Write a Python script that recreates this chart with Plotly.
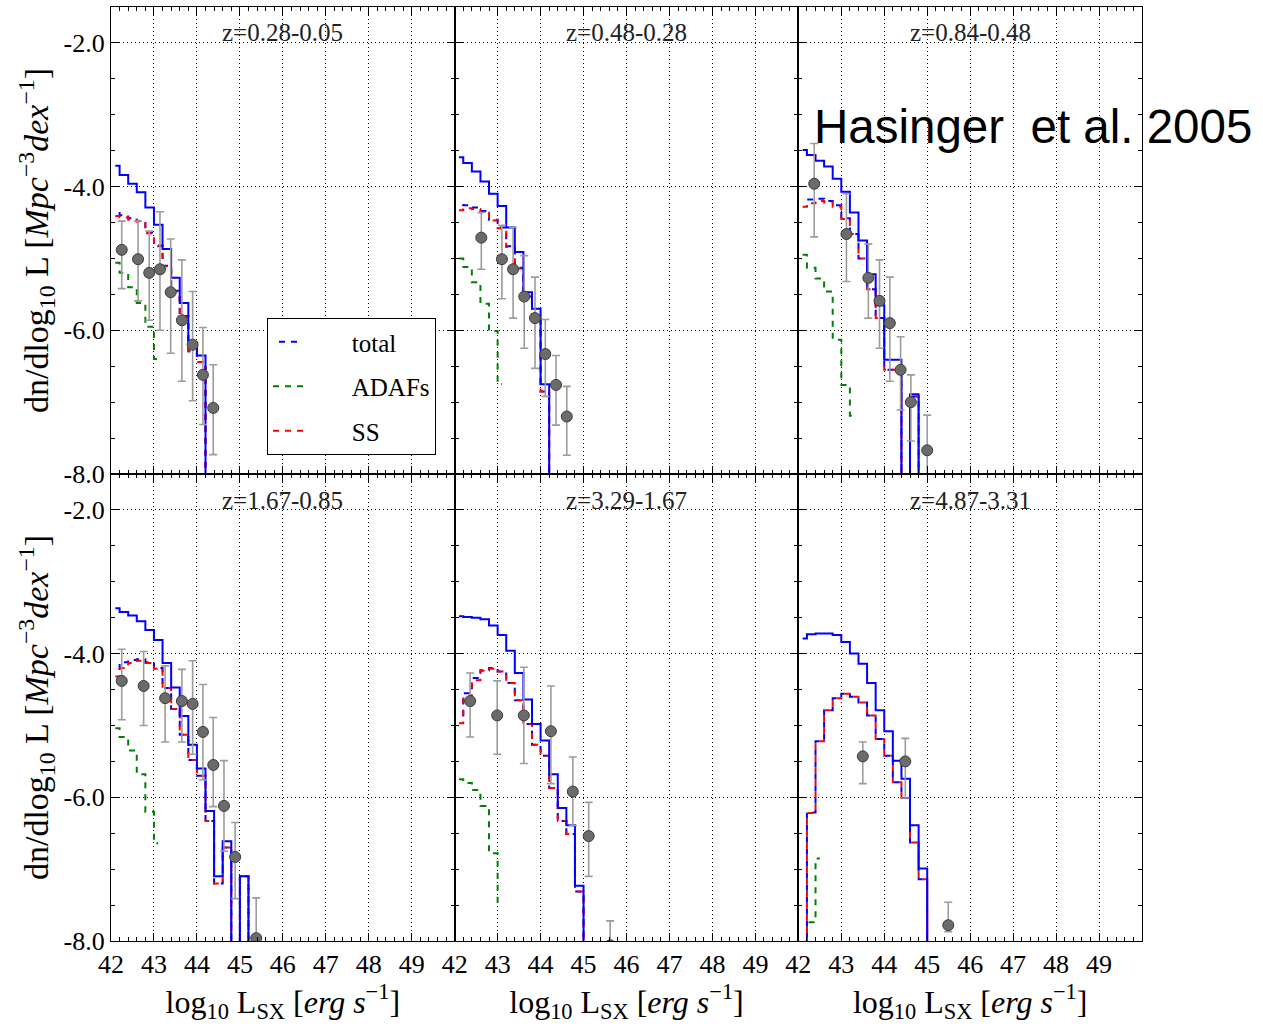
import plotly.graph_objects as go
from plotly.subplots import make_subplots

NEG = float("-inf")      # empty bin (log10 of zero)
FLOOR = -12.0            # where empty bins are drawn (below the visible range)

# ---------------- data ----------------
L_BINS = [42.1, 42.3, 42.5, 42.7, 42.9, 43.1, 43.3, 43.5, 43.7, 43.9,
          44.1, 44.3, 44.5, 44.7, 44.9, 45.1, 45.3]

Z_LABELS = ["z=0.28-0.05", "z=0.48-0.28", "z=0.84-0.48",
            "z=1.67-0.85", "z=3.29-1.67", "z=4.87-3.31"]

# solid blue (model, not in legend)
SOLID_1 = [-3.71, -3.84, -3.96, -4.08, -4.29, -4.53, -4.87, -5.27, -5.62, -6.17, -6.35, NEG]
SOLID_2 = [-3.59, -3.67, -3.79, -3.93, -4.10, -4.27, -4.57, -4.91, -5.47, -5.70, -6.75, NEG]
SOLID_3 = [-3.49, -3.56, -3.64, -3.72, -3.89, -4.07, -4.36, -4.75, -5.22, -5.65, -6.41, -6.41, NEG, -6.89, NEG]
SOLID_4 = [-3.37, -3.42, -3.47, -3.55, -3.67, -3.81, -4.13, -4.47, -4.87, -5.27, -5.60, -6.19, -7.10, -6.61, NEG, -7.10, NEG]
SOLID_5 = [-3.48, -3.49, -3.50, -3.52, -3.61, -3.74, -3.96, -4.27, -4.64, -4.98, -5.21, -5.68, -6.15, -6.39, -7.23, NEG]
SOLID_6 = [-3.79, -3.73, -3.72, -3.72, -3.74, -3.84, -4.00, -4.14, -4.41, -4.79, -5.08, -5.49, -5.74, -6.39, -6.99, NEG]

# total (blue dashed)
TOTAL_1 = [-4.33, -4.40, -4.44, -4.48, -4.64, -4.82, -5.10, -5.45, -5.80, -6.29, -6.44, NEG]
TOTAL_2 = [-4.22, -4.26, -4.29, -4.34, -4.46, -4.57, -4.83, -5.13, -5.53, -5.85, -6.85, NEG]
TOTAL_3 = [-4.20, -4.18, -4.17, -4.20, -4.26, -4.44, -4.66, -5.00, -5.43, -5.83, -6.55, -6.55, NEG, -6.92, NEG]
TOTAL_4 = [-4.25, -4.12, -4.09, -4.08, -4.12, -4.20, -4.48, -4.77, -5.13, -5.48, -5.70, -6.33, -7.20, -6.70, NEG, -7.10, NEG]
TOTAL_5 = [-4.90, -4.55, -4.34, -4.23, -4.20, -4.25, -4.41, -4.65, -4.98, -5.27, -5.42, -5.87, -6.33, -6.51, -7.31, NEG]
TOTAL_6 = [NEG, -6.21, -5.22, -4.79, -4.62, -4.56, -4.60, -4.68, -4.86, -5.19, -5.42, -5.79, -6.01, -6.63, -7.14, NEG]

# SS discs (red dashed)
SS_1 = [-4.41, -4.43, -4.46, -4.49, -4.65, -4.83, -5.11, -5.46, -5.81, -6.29, -6.44, NEG]
SS_2 = [-4.33, -4.30, -4.31, -4.36, -4.47, -4.58, -4.84, -5.14, -5.53, -5.85, -6.85, NEG]
SS_3 = [-4.28, -4.23, -4.20, -4.22, -4.28, -4.45, -4.66, -5.00, -5.43, -5.83, -6.55, -6.55, NEG, -6.92, NEG]
SS_4 = [-4.32, -4.20, -4.13, -4.10, -4.13, -4.21, -4.48, -4.77, -5.13, -5.48, -5.70, -6.33, -7.20, -6.70, NEG, -7.10, NEG]
SS_5 = [-4.97, -4.60, -4.37, -4.24, -4.21, -4.25, -4.41, -4.65, -4.98, -5.27, -5.42, -5.87, -6.33, -6.51, -7.31, NEG]
SS_6 = [NEG, -6.22, -5.22, -4.79, -4.62, -4.56, -4.60, -4.68, -4.86, -5.19, -5.42, -5.79, -6.01, -6.63, -7.14, NEG]

# ADAFs (green dashed)
ADAF_1 = [-5.06, -5.20, -5.40, -5.62, -5.95, -6.40]
ADAF_2 = [-5.00, -5.12, -5.33, -5.63, -6.01, -6.75]
ADAF_3 = [-4.95, -5.13, -5.28, -5.46, -6.13, -6.76, -7.19]
ADAF_4 = [-5.04, -5.16, -5.35, -5.68, -6.20, -6.64]
ADAF_5 = [-5.75, -5.80, -5.90, -6.12, -6.78, -7.49]
ADAF_6 = [NEG, -7.74, -6.85]

# Hasinger et al. 2005 data points: x, y, upper and lower end of error bar
P1_X = [42.25, 42.63, 42.89, 43.14, 43.39, 43.65, 43.90, 44.14, 44.38]
P1_Y = [-4.88, -5.01, -5.20, -5.15, -5.47, -5.86, -6.20, -6.62, -7.08]
P1_HI = [-4.48, -4.48, -4.62, -4.35, -4.73, -5.02, -5.46, -5.96, -6.48]
P1_LO = [-5.42, -5.59, -5.86, -6.00, -6.32, -6.71, -6.98, -7.31, -7.73]

P2_X = [42.62, 43.10, 43.36, 43.62, 43.87, 44.11, 44.36, 44.61]
P2_Y = [-4.71, -5.01, -5.15, -5.53, -5.83, -6.33, -6.76, -7.20]
P2_HI = [-4.36, -4.54, -4.57, -4.96, -5.26, -5.85, -6.35, -6.78]
P2_LO = [-5.15, -5.56, -5.83, -6.25, -6.53, -6.92, -7.32, -7.74]

P3_X = [42.37, 43.12, 43.63, 43.89, 44.13, 44.38, 44.62, 45.00]
P3_Y = [-3.96, -4.66, -5.27, -5.59, -5.90, -6.55, -7.00, -7.67]
P3_HI = [-3.40, -4.10, -4.80, -5.02, -5.26, -6.09, -6.62, -7.18]
P3_LO = [-4.70, -5.32, -5.83, -6.25, -6.71, -7.11, -7.54, -8.20]

P4_X = [42.25, 42.76, 43.26, 43.65, 43.90, 44.14, 44.38, 44.63, 44.89, 45.38]
P4_Y = [-4.38, -4.45, -4.62, -4.66, -4.70, -5.09, -5.55, -6.12, -6.83, -7.96]
P4_HI = [-3.94, -3.97, -4.17, -4.22, -4.10, -4.43, -4.89, -5.49, -6.35, -7.40]
P4_LO = [-4.92, -5.00, -5.23, -5.23, -5.40, -5.76, -6.13, -6.75, -7.41, -8.50]

P5_X = [42.36, 42.99, 43.61, 44.24, 44.75, 45.12, 45.62]
P5_Y = [-4.66, -4.86, -4.86, -5.08, -5.92, -6.54, -8.06]
P5_HI = [-4.27, -4.38, -4.19, -4.45, -5.44, -6.07, -7.72]
P5_LO = [-5.16, -5.40, -5.53, -5.81, -6.39, -7.10, -8.40]

P6_X = [43.50, 44.49, 45.49]
P6_Y = [-5.43, -5.50, -7.78]
P6_HI = [-5.23, -5.18, -7.46]
P6_LO = [-5.81, -6.01, -7.87]

X_TICKS = [42, 43, 44, 45, 46, 47, 48, 49]
X_TICK_TEXT = ["42", "43", "44", "45", "46", "47", "48", "49"]
Y_TICKS = [-8, -6, -4, -2]
Y_TICK_TEXT = ["-8.0", "-6.0", "-4.0", "-2.0"]

SOLIDS = [SOLID_1, SOLID_2, SOLID_3, SOLID_4, SOLID_5, SOLID_6]
TOTALS = [TOTAL_1, TOTAL_2, TOTAL_3, TOTAL_4, TOTAL_5, TOTAL_6]
SSS = [SS_1, SS_2, SS_3, SS_4, SS_5, SS_6]
ADAFS = [ADAF_1, ADAF_2, ADAF_3, ADAF_4, ADAF_5, ADAF_6]
POINTS = [(P1_X, P1_Y, P1_HI, P1_LO), (P2_X, P2_Y, P2_HI, P2_LO),
          (P3_X, P3_Y, P3_HI, P3_LO), (P4_X, P4_Y, P4_HI, P4_LO),
          (P5_X, P5_Y, P5_HI, P5_LO), (P6_X, P6_Y, P6_HI, P6_LO)]

# ---------------- figure ----------------
SERIF = "Liberation Serif"
BLUE, GREEN, RED = "#0000ff", "#008000", "#ff0000"
LW = 2.0
PAD = "\u00a0" * 7   # pushes legend labels away from their line samples


def steps(vals):
    x = L_BINS[:len(vals)]
    y = [FLOOR if v == NEG else v for v in vals]
    return x, y


fig = make_subplots(rows=2, cols=3, horizontal_spacing=0, vertical_spacing=0)

for i in range(6):
    r, c = i // 3 + 1, i % 3 + 1
    first = i == 0

    x, y = steps(ADAFS[i])
    fig.add_trace(go.Scatter(x=x, y=y, mode="lines", line_shape="hvh",
                             line=dict(color=GREEN, width=LW, dash="6px,6px"),
                             name=PAD + "ADAFs", legendgroup="g2", legendrank=2,
                             showlegend=first),
                  row=r, col=c)
    x, y = steps(TOTALS[i])
    fig.add_trace(go.Scatter(x=x, y=y, mode="lines", line_shape="hvh",
                             line=dict(color=BLUE, width=LW, dash="0px,6px,6px,0px"),
                             name=PAD + "total", legendgroup="g1", legendrank=1,
                             showlegend=first),
                  row=r, col=c)
    x, y = steps(SSS[i])
    fig.add_trace(go.Scatter(x=x, y=y, mode="lines", line_shape="hvh",
                             line=dict(color=RED, width=LW, dash="6px,6px"),
                             name=PAD + "SS", legendgroup="g3", legendrank=3,
                             showlegend=first),
                  row=r, col=c)
    x, y = steps(SOLIDS[i])
    fig.add_trace(go.Scatter(x=x, y=y, mode="lines", line_shape="hvh",
                             line=dict(color=BLUE, width=LW),
                             showlegend=False),
                  row=r, col=c)
    px, py, phi, plo = POINTS[i]
    fig.add_trace(go.Scatter(
        x=px, y=py, mode="markers",
        marker=dict(size=11, color="#6b6b6b", line=dict(color="#3c3c3c", width=1)),
        error_y=dict(type="data", symmetric=False,
                     array=[h - v for h, v in zip(phi, py)],
                     arrayminus=[v - l for l, v in zip(plo, py)],
                     color="#9c9c9c", thickness=1.6, width=4),
        showlegend=False), row=r, col=c)

axis_common = dict(showline=True, linecolor="black", linewidth=1.2, mirror="allticks",
                   ticks="inside", ticklen=8, tickwidth=1, tickcolor="black",
                   showgrid=True, gridcolor="black", gridwidth=1, griddash="1px,3px",
                   zeroline=False, tickfont=dict(family=SERIF, size=26, color="black"))

for i in range(6):
    r, c = i // 3 + 1, i % 3 + 1
    fig.update_xaxes(range=[42, 50], tickvals=X_TICKS, ticktext=X_TICK_TEXT,
                     showticklabels=(r == 2),
                     minor=dict(ticks="inside", ticklen=4, dtick=0.2, tick0=42,
                                tickcolor="black", showgrid=False),
                     title=dict(text="log<sub>10</sub> L<sub>SX</sub> [<i>erg s</i><sup>−1</sup>]",
                                font=dict(family=SERIF, size=32, color="black"), standoff=6)
                     if r == 2 else None,
                     row=r, col=c, **axis_common)
    fig.update_yaxes(range=[-8, -1.5], tickvals=Y_TICKS, ticktext=Y_TICK_TEXT,
                     showticklabels=(c == 1),
                     minor=dict(ticks="inside", ticklen=4, dtick=0.5, tick0=-8,
                                tickcolor="black", showgrid=False),
                     title=dict(text="dn/dlog<sub>10</sub> L [<i>Mpc</i><sup>−3</sup><i>dex</i><sup>−1</sup>]",
                                font=dict(family=SERIF, size=34, color="black"), standoff=4)
                     if c == 1 else None,
                     row=r, col=c, **axis_common)

annotations = []
for i in range(6):
    r = i // 3 + 1
    ax = "" if i == 0 else str(i + 1)
    annotations.append(dict(text=Z_LABELS[i], xref=f"x{ax} domain", yref=f"y{ax} domain",
                            x=0.5, y=0.946 if r == 1 else 0.944, xanchor="center",
                            yanchor="middle", showarrow=False,
                            font=dict(family=SERIF, size=25, color="#222222")))
annotations.append(dict(text="Hasinger\u00a0 et al. 2005", xref="paper", yref="paper",
                        x=0.6800, y=0.8720, xanchor="left", yanchor="middle",
                        showarrow=False,
                        font=dict(family="Liberation Sans", size=47.5, color="black")))

fig.update_layout(
    width=1263, height=1026,
    margin=dict(l=111, r=121, t=7, b=85),
    paper_bgcolor="white", plot_bgcolor="white",
    annotations=annotations,
    legend=dict(x=0.1513, y=0.667, xanchor="left", yanchor="top",
                bordercolor="black", borderwidth=1, bgcolor="white",
                font=dict(family=SERIF, size=25, color="black"),
                traceorder="grouped", tracegroupgap=9),
)

fig.write_html("out.html")
